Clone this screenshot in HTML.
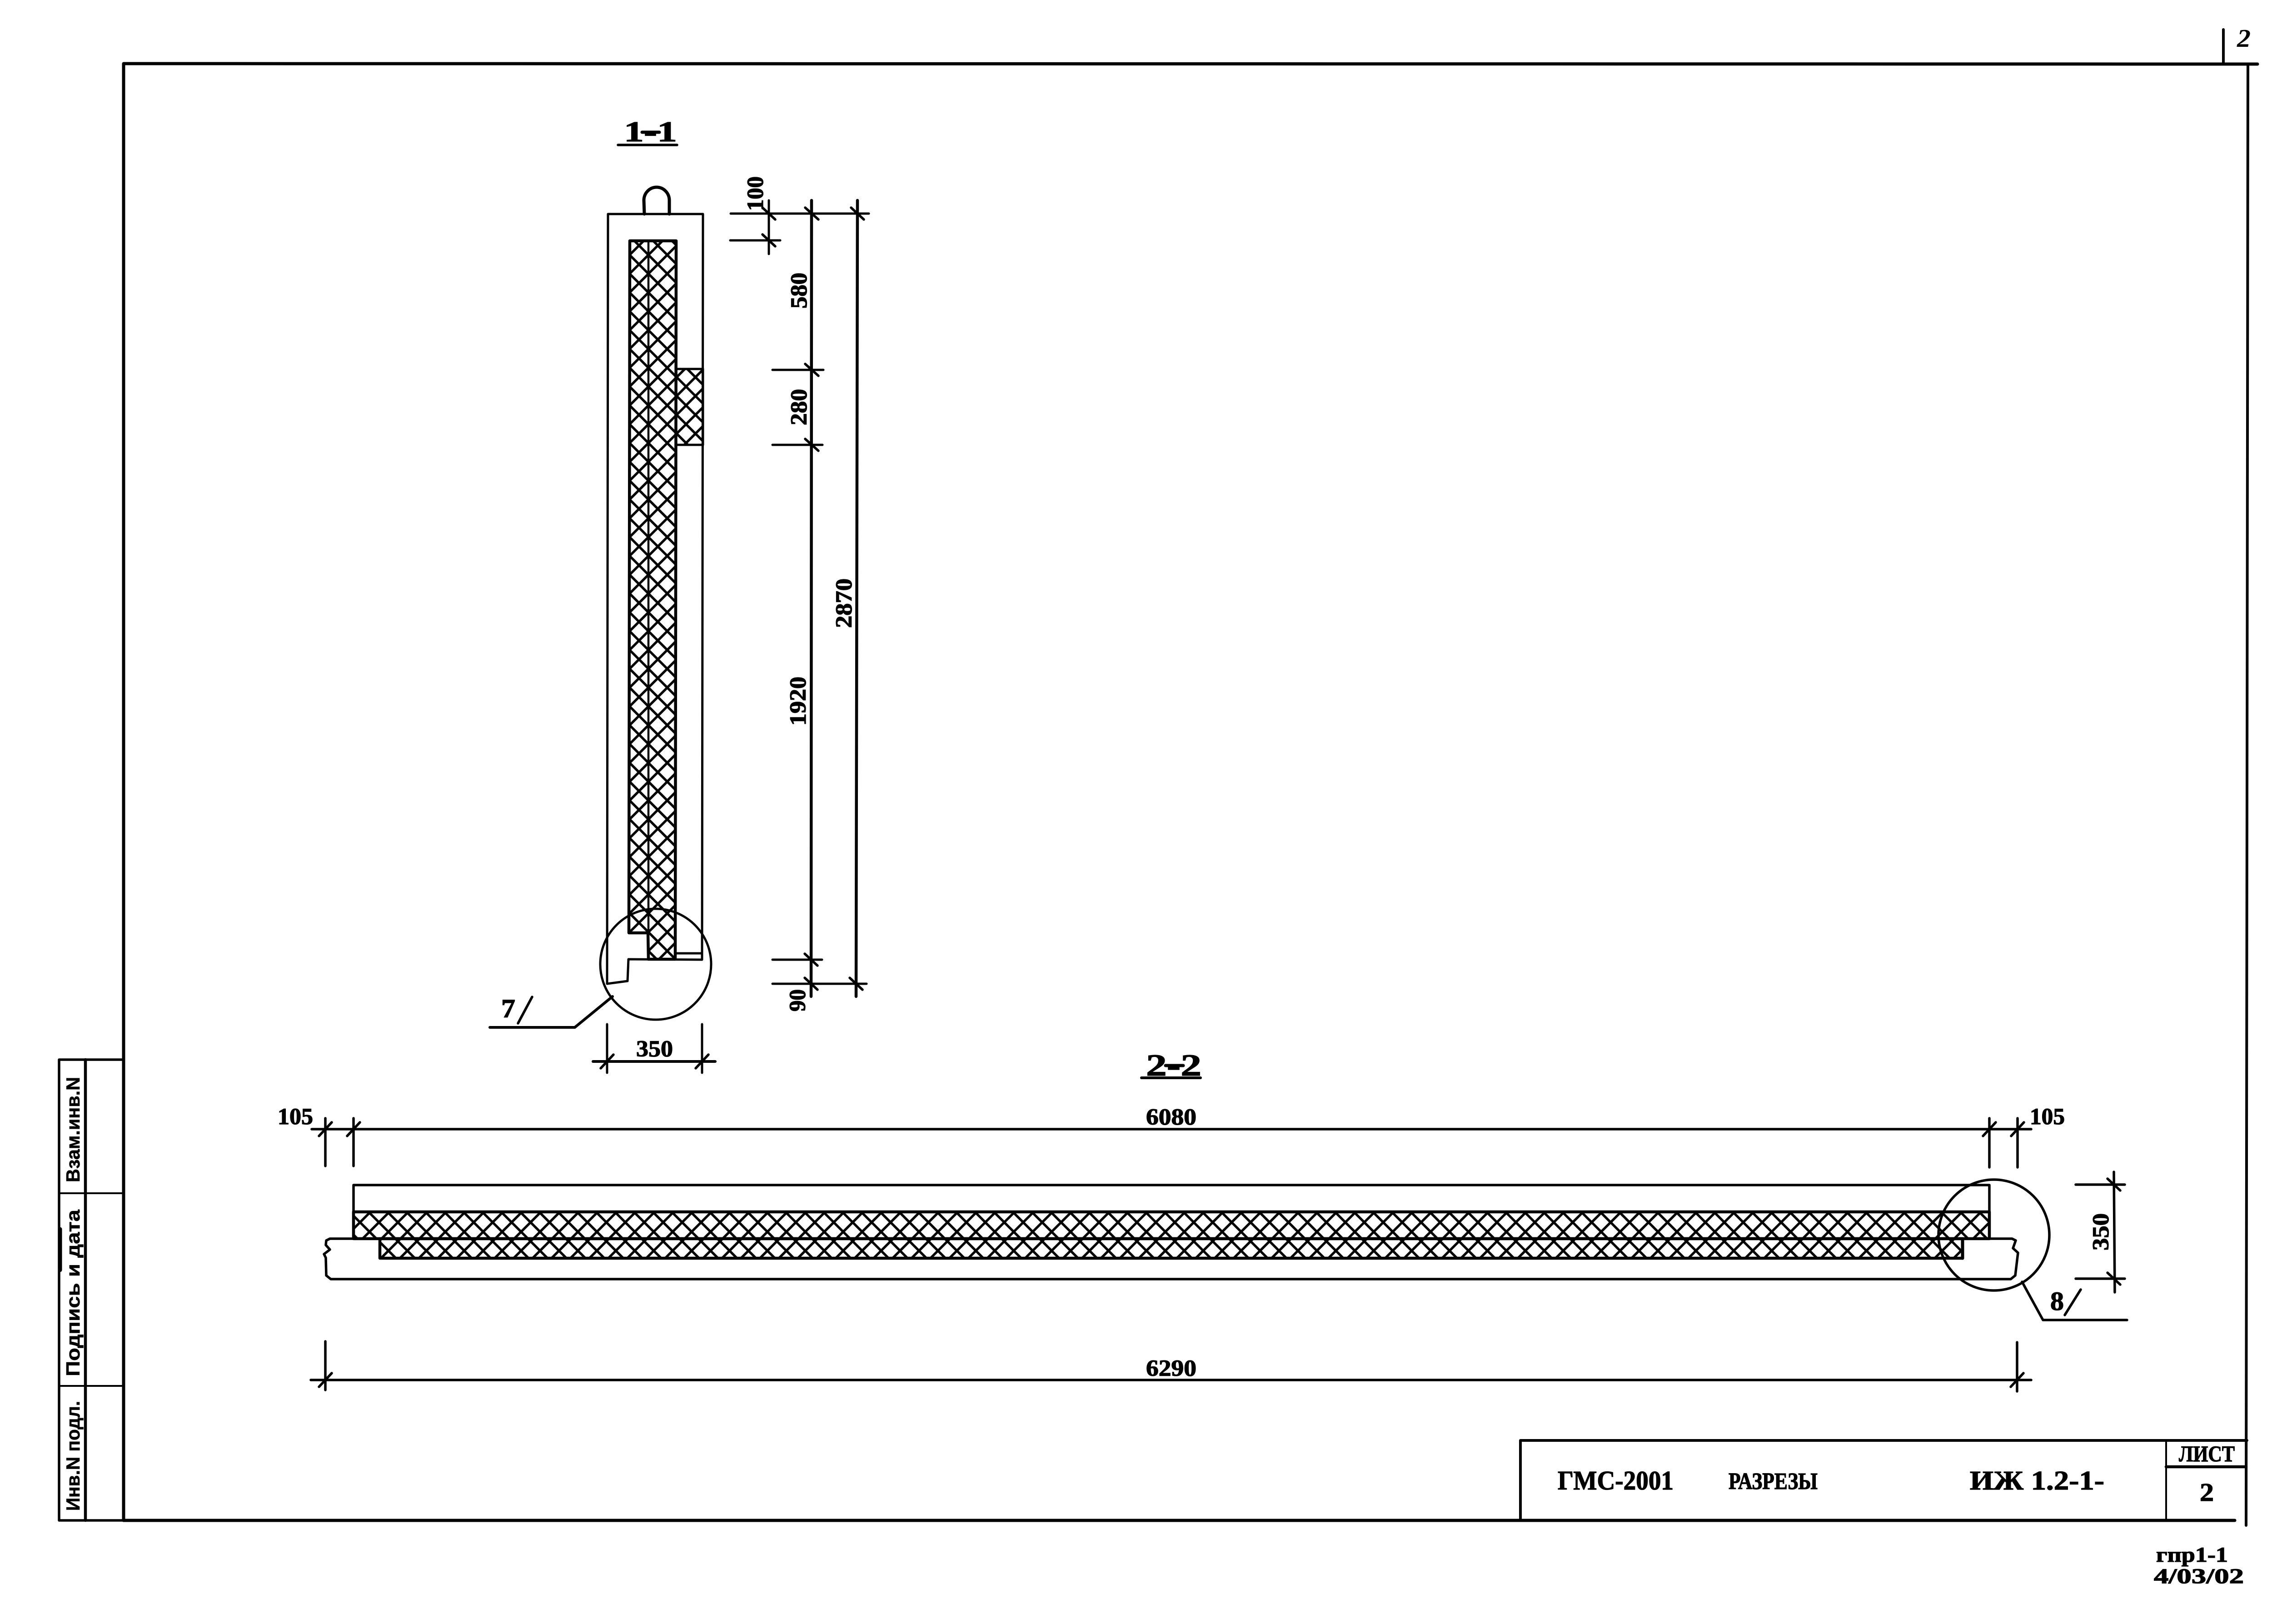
<!DOCTYPE html>
<html lang="ru"><head><meta charset="utf-8"><title>Разрезы</title>
<style>html,body{margin:0;padding:0;background:#fff}svg{display:block}
text{font-family:"Liberation Serif","Noto Serif CJK SC",serif;font-weight:bold;fill:#000;stroke:#000;stroke-width:1.3px}
.s{font-family:"Liberation Sans","Noto Sans CJK SC",sans-serif;font-size:42px;stroke-width:.6px}
.d{font-size:51px}
</style></head><body>
<svg xmlns="http://www.w3.org/2000/svg" width="5008" height="3574" viewBox="0 0 5008 3574">
<defs>
<pattern id="h2" patternUnits="userSpaceOnUse" x="2502" y="2690" width="41.7" height="41.7">
<path d="M-2,-2L43.7,43.7M43.7,-2L-2,43.7" stroke="#000" stroke-width="5.4" fill="none"/></pattern>
<pattern id="h1" patternUnits="userSpaceOnUse" x="1427" y="561" width="41.4" height="41.4">
<path d="M-2,-2L43.4,43.4M43.4,-2L-2,43.4" stroke="#000" stroke-width="5.4" fill="none"/></pattern>
</defs>
<rect width="5008" height="3574" fill="#fff"/>
<g fill="none" stroke="#000" stroke-linecap="round" stroke-linejoin="round">
<!-- frame -->
<path d="M272,3346L272,140L4968,141" stroke-width="7"/>
<path d="M4947,141L4943,3357" stroke-width="6"/>
<path d="M272,3346L4918,3346" stroke-width="7"/>
<path d="M4893,65L4893,139" stroke-width="6"/>
<!-- stamp -->
<path d="M130,2332L272,2332M130,2332L130,3346L272,3346" stroke-width="5.5"/>
<path d="M188,2332L188,3346" stroke-width="6.5"/>
<path d="M130,2626L272,2626M130,3050L272,3050" stroke-width="4"/>
<path d="M132,2705L132,2795" stroke-width="9"/>
<!-- title block -->
<path d="M3346,3346L3346,3170L4945,3170" stroke-width="6"/>
<path d="M4767,3170L4767,3345" stroke-width="4"/>
<path d="M4767,3228L4943,3228" stroke-width="6.5"/>

<!-- section 1-1 -->
<path d="M1360,319L1490,319" stroke-width="5.5"/>
<path d="M1413,291L1451,291" stroke-width="7"/>
<path d="M1418,471L1417,441A28,29 0 0 1 1473,441L1473,471" stroke-width="7"/>
<path d="M1336,2165L1338,471L1547,471L1545,2112L1383,2111L1381,2159L1336,2165" stroke-width="5"/>
<path d="M1386,530L1488,530L1486,2111L1427,2111L1426,2053L1384,2053Z" fill="url(#h1)" stroke-width="6.5"/>
<path d="M1427,532L1427,2053" stroke-width="4.5"/>
<rect x="1488" y="812" width="59" height="167" fill="url(#h1)" stroke-width="5"/>
<path d="M1486,2098L1545,2098" stroke-width="5"/>
<circle cx="1443" cy="2122" r="122" stroke-width="5"/>
<path d="M1348,2193L1265,2261L1078,2261" stroke-width="6"/>
<path d="M1171,2194L1140,2252" stroke-width="5.5"/>
<!-- dims 1-1 -->
<g stroke-width="5">
<path d="M1692,441L1692,559M1608,470L1912,470M1607,529L1717,529"/>
<path d="M1786,441L1785,2193M1887,441L1884,2193" stroke-width="6.5"/>
<path d="M1700,814L1812,814M1700,979L1810,979M1700,2112L1809,2112M1700,2165L1907,2165" />
<path d="M1678,457L1706,483M1678,516L1706,542M1772,457L1801,483M1873,457L1901,483M1772,801L1801,827M1772,966L1801,992M1771,2099L1799,2125M1771,2152L1799,2178M1870,2152L1898,2178" stroke-width="5.5"/>
<path d="M1336,2254L1336,2361M1545,2254L1545,2361"/>
<path d="M1305,2336L1574,2336" stroke-width="6"/>
<path d="M1322,2351L1350,2321M1531,2351L1559,2321" stroke-width="5.5"/>
</g>

<!-- section 2-2 -->
<path d="M2512,2372L2642,2372" stroke-width="6"/>
<path d="M2565,2345L2604,2345" stroke-width="7"/>
<rect x="778" y="2667" width="3600" height="59" fill="url(#h2)" stroke-width="6.5"/>
<rect x="836" y="2726" width="3483" height="43" fill="url(#h2)" stroke-width="6.5"/>
<path d="M778,2667L778,2608L4378,2608L4378,2667" stroke-width="5.5"/>
<path d="M4319,2726L4319,2769" stroke-width="7"/>
<path d="M726,2726L4428,2726L4436,2730L4430,2747L4441,2757L4435,2807L4425,2815L728,2815L718,2807L717,2768L713,2760L726,2750L717,2740L718,2730Z" stroke-width="5.5"/>
<circle cx="4388" cy="2718" r="122" stroke-width="5.5"/>
<path d="M4450,2821L4496,2905L4681,2905" stroke-width="5.5"/>
<path d="M4579,2838L4544,2894" stroke-width="5.5"/>
<!-- dims 2-2 -->
<g stroke-width="5.5">
<path d="M686,2485L4470,2485"/>
<path d="M716,2461L716,2566M778,2461L778,2566M4378,2461L4378,2569M4440,2461L4440,2569"/>
<path d="M702,2500L730,2470M764,2500L792,2470M4364,2500L4392,2470M4426,2500L4454,2470"/>
<path d="M684,3037L4470,3037M716,2952L716,3059M4439,2954L4439,3062"/>
<path d="M702,3052L730,3022M4425,3052L4453,3022"/>
<path d="M4652,2579L4654,2844M4568,2607L4676,2607M4568,2814L4676,2814"/>
<path d="M4638,2594L4666,2620M4638,2801L4666,2827"/>
</g>
</g>

<!-- section titles -->
<text x="1373" y="311" font-size="64" textLength="117" lengthAdjust="spacingAndGlyphs">1-1</text>
<text x="2522" y="2367" font-size="68" textLength="122" lengthAdjust="spacingAndGlyphs">2-2</text>
<!-- dim labels -->
<text class="d" x="1400" y="2325" textLength="81" lengthAdjust="spacingAndGlyphs">350</text>
<text class="d" x="611" y="2474" textLength="78" lengthAdjust="spacingAndGlyphs">105</text>
<text class="d" x="4467" y="2474" textLength="77" lengthAdjust="spacingAndGlyphs">105</text>
<text class="d" x="2522" y="2475" textLength="111" lengthAdjust="spacingAndGlyphs">6080</text>
<text class="d" x="2522" y="3028" textLength="111" lengthAdjust="spacingAndGlyphs">6290</text>
<text class="d" transform="translate(1679,464) rotate(-90)" textLength="76" lengthAdjust="spacingAndGlyphs">100</text>
<text class="d" transform="translate(1775,679) rotate(-90)" textLength="79" lengthAdjust="spacingAndGlyphs">580</text>
<text class="d" transform="translate(1775,936) rotate(-90)" textLength="80" lengthAdjust="spacingAndGlyphs">280</text>
<text class="d" transform="translate(1773,1597) rotate(-90)" textLength="108" lengthAdjust="spacingAndGlyphs">1920</text>
<text class="d" transform="translate(1874,1382) rotate(-90)" textLength="109" lengthAdjust="spacingAndGlyphs">2870</text>
<text class="d" transform="translate(1772,2226) rotate(-90)" textLength="49" lengthAdjust="spacingAndGlyphs">90</text>
<text class="d" transform="translate(4640,2752) rotate(-90)" textLength="82" lengthAdjust="spacingAndGlyphs">350</text>
<text x="1103" y="2239" font-size="58" textLength="31" lengthAdjust="spacingAndGlyphs">7</text>
<text x="4512" y="2883" font-size="58" textLength="30" lengthAdjust="spacingAndGlyphs">8</text>
<!-- title block text -->
<text x="3428" y="3278" font-size="59" textLength="255" lengthAdjust="spacingAndGlyphs">ГМС-2001</text>
<text x="3804" y="3277" font-size="52" textLength="196" lengthAdjust="spacingAndGlyphs">РАЗРЕЗЫ</text>
<text x="4335" y="3278" font-size="59" textLength="296" lengthAdjust="spacingAndGlyphs">ИЖ 1.2-1-</text>
<text x="4795" y="3216" font-size="50" textLength="123" lengthAdjust="spacingAndGlyphs">ЛИСТ</text>
<text x="4841" y="3303" font-size="56" textLength="31" lengthAdjust="spacingAndGlyphs">2</text>
<text x="4745" y="3437" font-size="47" textLength="158" lengthAdjust="spacingAndGlyphs">гпр1-1</text>
<text x="4740" y="3484" font-size="47" textLength="198" lengthAdjust="spacingAndGlyphs">4/03/02</text>
<text x="4923" y="103" font-size="56" font-style="italic" textLength="30" lengthAdjust="spacingAndGlyphs" style="stroke-width:0">2</text>
<!-- stamp text -->
<text class="s" transform="translate(175,2602) rotate(-90)" textLength="232" lengthAdjust="spacingAndGlyphs">Взам.инв.N</text>
<text class="s" transform="translate(175,3029) rotate(-90)" textLength="367" lengthAdjust="spacingAndGlyphs">Подпись и дата</text>
<text class="s" transform="translate(175,3325) rotate(-90)" textLength="242" lengthAdjust="spacingAndGlyphs">Инв.N подл.</text>
</svg>
</body></html>
